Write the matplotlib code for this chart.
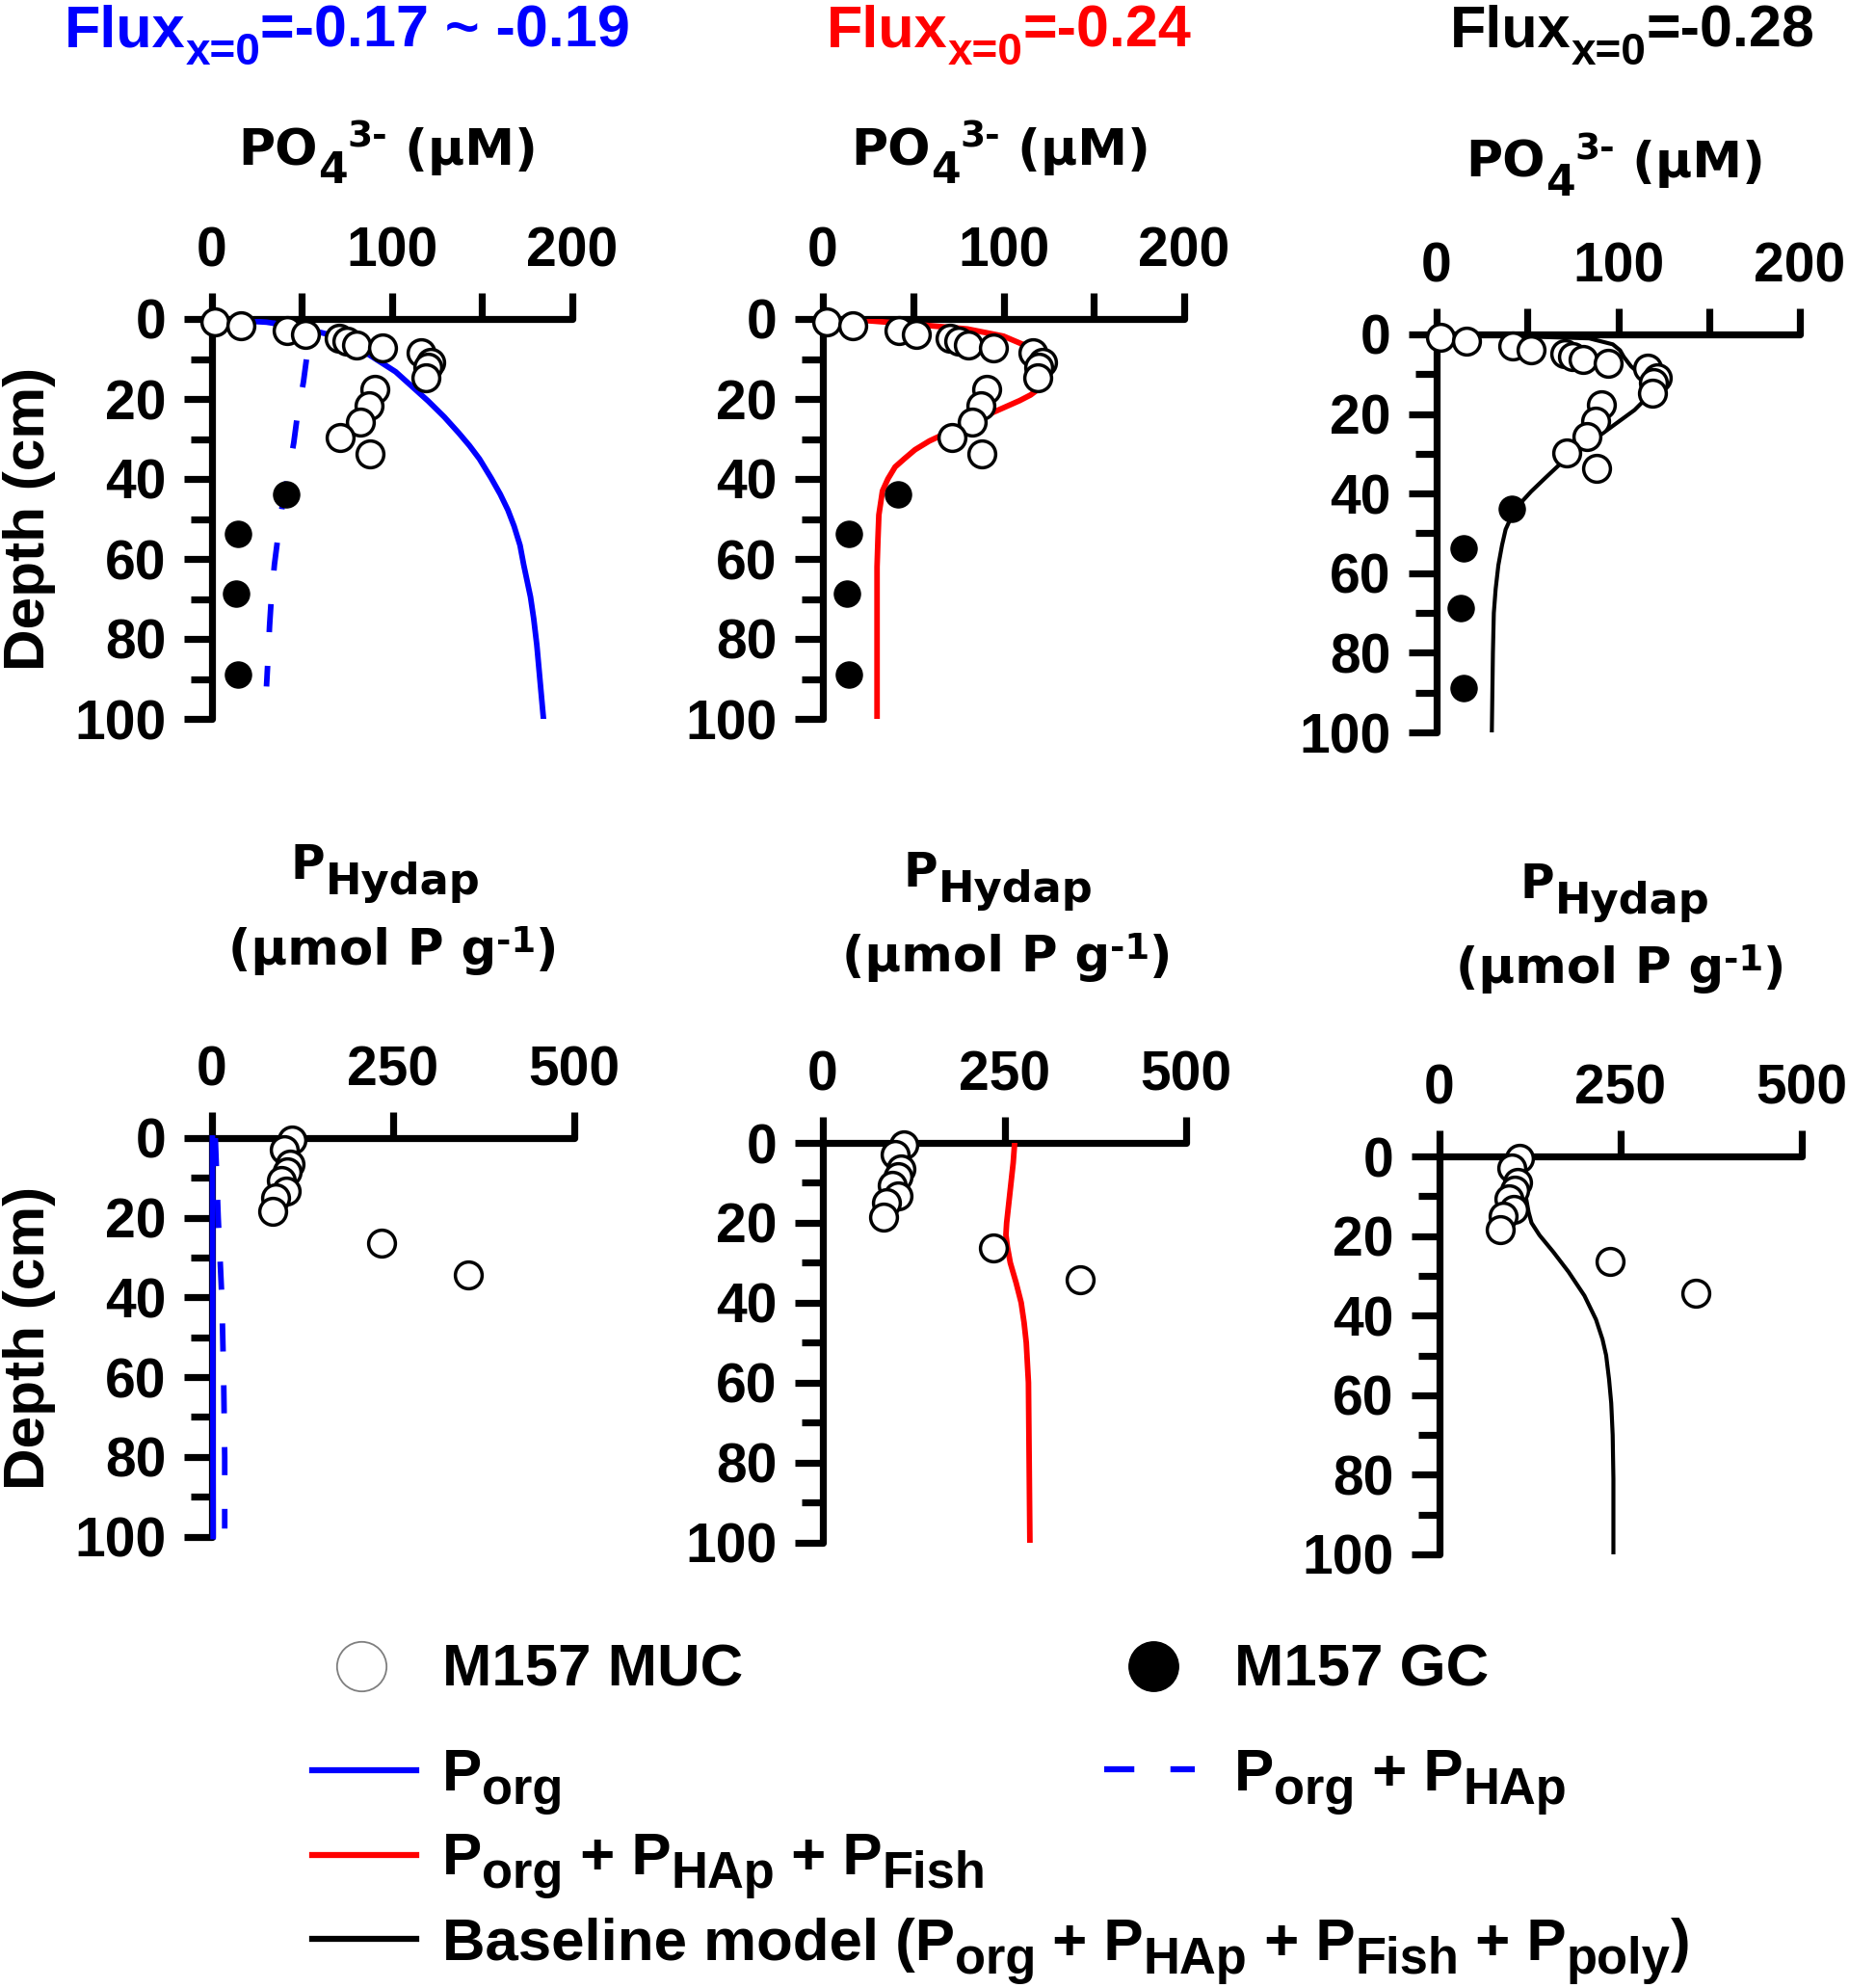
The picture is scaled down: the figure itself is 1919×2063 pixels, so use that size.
import matplotlib
matplotlib.use('Agg')
import matplotlib.pyplot as plt
from matplotlib.lines import Line2D
from matplotlib.ticker import FixedLocator, MultipleLocator
from matplotlib.transforms import IdentityTransform

plt.rcParams['font.family'] = ['Liberation Sans', 'DejaVu Sans']
plt.rcParams['font.weight'] = 'bold'

# ---------------- data ----------------
# PO4 (uM) measured, M157 MUC (open) and M157 GC (filled)
muc_po4 = [2, 16.4, 42, 51.8, 70.5, 75, 80.4, 94.6, 116, 121.7, 119.6, 119, 90.5, 87.5, 82.5, 71.4, 87.8]
muc_po4_depth = [0.8, 1.6, 2.8, 3.8, 4.8, 5.6, 6.4, 7.2, 8.4, 10.8, 12, 14.8, 17.7, 21.7, 25.7, 29.7, 33.7]
gc_po4 = [41.4, 14.6, 13.4, 14.6]
gc_po4_depth = [43.8, 53.8, 68.7, 88.8]

# P_Hydap (umol P g-1) measured, M157 MUC
muc_hyd = [111, 100, 108, 104, 96, 103, 88, 84, 235, 354]
muc_hyd_depth = [0.6, 3.0, 6.5, 8.5, 10.7, 13.3, 15.0, 18.5, 26.3, 34.3]

# model: P_org (PO4)
porg_po4_depth = [0, 0.8, 2.0, 4.0, 8.0, 13.2, 20.5, 24.5, 28.5, 31.7, 35, 39.8, 43.8, 47.8, 51.8, 56.6,
                  61.4, 69.5, 75, 81.5, 90, 100]
porg_po4 = [0, 30.4, 48, 66, 84, 102, 120, 129, 137, 143, 148.5, 155, 160, 164.3, 167.7, 171, 173,
            176.8, 178.6, 180.3, 182, 184]
# model: P_org + P_HAp (PO4)
porg_hap_po4_depth = [0, 0.8, 2.2, 5, 9.6, 15.7, 24.9, 31, 39.8, 46.2, 55, 61.4, 70.3, 76.7, 85.1, 91.9]
porg_hap_po4 = [0, 30, 50, 53, 52.7, 50.9, 47.3, 45.5, 42, 39.3, 36.6, 34.8, 33, 32.1, 31.2, 30.4]
# model: P_org + P_HAp + P_Fish (PO4)
fish_po4_depth = [0, 0.4, 1.2, 2.5, 4.3, 6.8, 8.7, 10.5, 12, 13.6, 15.5, 17.3, 19, 20.4, 22, 24, 26, 28.4,
                  30.5, 32.7, 35, 37, 40, 43, 46, 49, 55, 62, 75, 100]
fish_po4 = [0, 24, 47, 80, 100, 113, 118, 122, 123.5, 124, 123, 120, 115, 109, 101, 91, 80, 69,
            59, 51, 45, 40, 36, 33, 32, 31, 30.5, 30, 30, 30]
# model: baseline (PO4)
base_po4_depth = [0, 0.4, 1, 2.5, 4, 5.6, 8, 10, 12, 13.6, 15, 16.7, 19, 21, 23.5, 26, 30, 33, 36, 39.5, 43,
                  46, 49, 53, 58, 64, 70, 80, 100]
base_po4 = [0, 40, 84, 97, 101, 103, 107, 112, 115, 117, 116.5, 114, 109, 103, 95.5, 88, 75, 67, 60, 52, 45,
            41, 38, 36, 34, 32.5, 31.5, 31, 30.4]

# model: P_org (P_Hydap)
porg_hyd_depth = [0, 100]
porg_hyd = [1, 2]
# model: P_org + P_HAp (P_Hydap)
porg_hap_hyd_depth = [0, 20, 40, 60, 80, 98]
porg_hap_hyd = [5, 9, 14, 16.5, 18, 18]
# model: P_org + P_HAp + P_Fish (P_Hydap)
fish_hyd_depth = [0, 5, 10, 15, 20, 23, 26, 30, 35, 40, 45, 50, 60, 80, 100]
fish_hyd = [264, 262, 259, 256, 253, 252, 254, 258, 266, 273, 277, 280, 283, 284, 285]
# model: baseline (P_Hydap)
base_hyd_depth = [0, 5, 10, 12, 14, 16.7, 19.8, 24, 29, 35, 41, 46, 50, 56, 62, 70, 81, 100]
base_hyd = [118, 118, 119, 121, 123, 127, 138, 157, 178, 200, 216, 225, 230, 234, 237, 239, 240, 240]

flux_values = ['=-0.17 ~ -0.19', '=-0.24', '=-0.28']
flux_colors = ['blue', 'red', 'black']

# ---------------- figure ----------------
W, H = 1919, 2063
fig = plt.figure(figsize=(W / 100, H / 100), dpi=100)
REN = fig.canvas.get_renderer()
FS = 41
LW_SP = 5.2
LIB = ['Liberation Sans', 'DejaVu Sans']
DJV = ['DejaVu Sans']


def add_ax(left, top, right, bottom):
    return fig.add_axes([left / W, 1 - bottom / H, (right - left) / W, (bottom - top) / H])


def ftext(x, y, s, **kw):
    kw.setdefault('fontsize', FS)
    kw.setdefault('fontweight', 'bold')
    return fig.text(x / W, 1 - y / H, s, **kw)


def advance(s, fs, family):
    t1 = fig.text(0, 0, '|' + s + '|', fontsize=fs, fontweight='bold', family=family)
    t2 = fig.text(0, 0, '||', fontsize=fs, fontweight='bold', family=family)
    w = t1.get_window_extent(REN).width - t2.get_window_extent(REN).width
    t1.remove()
    t2.remove()
    return w


def rich(x, y, pieces, size, family=LIB, color='black', ha='left'):
    """pieces: (text, scale, baseline offset in em of main size)."""
    em = size * 100 / 72
    widths = [advance(s, size * sc, family) for s, sc, dy in pieces]
    total = sum(widths)
    x0 = x - total / 2 if ha == 'center' else x
    cx = x0
    for (s, sc, dy), w in zip(pieces, widths):
        fig.text(cx, (H - y) + dy * em, s, fontsize=size * sc, fontweight='bold', family=family,
                 color=color, ha='left', va='baseline', transform=IdentityTransform())
        cx += w


def style(ax, xmax, xmajor, xminor):
    ax.set_xlim(0, xmax)
    ax.set_ylim(100, 0)
    for s in ['right', 'bottom']:
        ax.spines[s].set_visible(False)
    for s in ['left', 'top']:
        ax.spines[s].set_linewidth(LW_SP)
        ax.spines[s].set_capstyle('round')
    ax.xaxis.set_ticks_position('top')
    ax.xaxis.set_major_locator(FixedLocator(xmajor))
    ax.xaxis.set_minor_locator(FixedLocator(xminor if xminor else []))
    ax.yaxis.set_major_locator(MultipleLocator(20))
    ax.yaxis.set_minor_locator(MultipleLocator(10))
    ax.tick_params(axis='x', which='both', direction='out', length=19.5, width=LW_SP,
                   pad=11, labelsize=FS)
    ax.tick_params(axis='y', which='major', direction='out', length=21, width=LW_SP,
                   pad=13, labelsize=FS)
    ax.tick_params(axis='y', which='minor', direction='out', length=16, width=LW_SP)
    for lab in ax.get_xticklabels() + ax.get_yticklabels():
        lab.set_fontweight('bold')
    ax.patch.set_alpha(0)


open_kw = dict(marker='o', linestyle='none', markersize=20, markerfacecolor='white',
               markeredgecolor='black', markeredgewidth=2.5, clip_on=False, zorder=5)
fill_kw = dict(marker='o', linestyle='none', markersize=19.5, markerfacecolor='black',
               markeredgecolor='black', markeredgewidth=1, clip_on=False, zorder=5)

top_boxes = [(219.7, 331, 594, 746), (854, 331, 1229, 746), (1491, 347, 1868, 760)]
bot_boxes = [(219.7, 1181, 595.5, 1594.5), (854, 1186, 1231, 1600.6), (1494, 1200, 1870, 1613)]

top_axes = [add_ax(*b) for b in top_boxes]
bot_axes = [add_ax(*b) for b in bot_boxes]

for ax in top_axes:
    style(ax, 200, [0, 100, 200], [50, 150])
for ax in bot_axes:
    style(ax, 500, [0, 250, 500], None)

LW_C = 4.2
# top row curves
a1, a2, a3 = top_axes
a1.plot(porg_po4, porg_po4_depth, color='blue', lw=LW_C, solid_capstyle='round',
        solid_joinstyle='round', zorder=3)
a1.plot(porg_hap_po4, porg_hap_po4_depth, color='blue', lw=LW_C, dashes=(5, 6), zorder=3)
a2.plot(fish_po4, fish_po4_depth, color='red', lw=LW_C, solid_capstyle='round',
        solid_joinstyle='round', zorder=3)
a3.plot(base_po4, base_po4_depth, color='black', lw=3.0, solid_capstyle='round',
        solid_joinstyle='round', zorder=3)
for ax in top_axes:
    ax.plot(muc_po4, muc_po4_depth, **open_kw)
    ax.plot(gc_po4, gc_po4_depth, **fill_kw)

# bottom row curves
b1, b2, b3 = bot_axes
b1.plot(porg_hyd, porg_hyd_depth, color='blue', lw=LW_C, zorder=3, clip_on=False)
b1.plot(porg_hap_hyd, porg_hap_hyd_depth, color='blue', lw=LW_C, dashes=(5, 6), zorder=3)
b2.plot(fish_hyd, fish_hyd_depth, color='red', lw=LW_C, solid_capstyle='round',
        solid_joinstyle='round', zorder=3)
b3.plot(base_hyd, base_hyd_depth, color='black', lw=3.0, solid_capstyle='round',
        solid_joinstyle='round', zorder=3)
for ax in bot_axes:
    ax.plot(muc_hyd, muc_hyd_depth, **open_kw)

# titles
title_left = [67, 858, 1505]
for xl, val, col in zip(title_left, flux_values, flux_colors):
    rich(xl, 48.5, [('Flux', 1, 0), ('x=0', 0.75, -0.3), (val, 1, 0)], 44, color=col)

# top x labels
for cx, by in [(403, 171), (1039, 171), (1677, 184)]:
    rich(cx, by, [('PO', 1, 0), ('4', 0.85, -0.36), ('3-', 0.72, 0.36), (' (μM)', 1, 0)],
         37.5, family=DJV, ha='center')

# bottom x labels
for (c1, b1y), (c2, b2y) in [((400, 912), (408, 1001)), ((1036, 919.5), (1045, 1008)),
                             ((1676, 932), (1682, 1020))]:
    rich(c1, b1y, [('P', 1, 0), ('Hydap', 0.92, -0.33)], 35, family=DJV, ha='center')
    rich(c2, b2y, [('(μmol P g', 1, 0), ('-1', 0.72, 0.25), (')', 1, 0)], 37, family=DJV, ha='center')

# y labels
ftext(30, 538, 'Depth (cm)', rotation=90, ha='center', va='center', fontsize=43.5)
ftext(30, 1388, 'Depth (cm)', rotation=90, ha='center', va='center', fontsize=43.5)

# ---------------- legend ----------------
def fig_line(x1, x2, y, **kw):
    fig.add_artist(Line2D([x1 / W, x2 / W], [1 - y / H, 1 - y / H], transform=fig.transFigure, **kw))


def fig_marker(x, y, **kw):
    fig.add_artist(Line2D([x / W], [1 - y / H], transform=fig.transFigure, linestyle='none', **kw))


LFS = 44.5
SUB = 0.85
SDY = -0.22
fig_marker(375, 1729, marker='o', markersize=37, markerfacecolor='white',
           markeredgecolor='#7f7f7f', markeredgewidth=1.3)
rich(459, 1749, [('M157 MUC', 1, 0)], LFS)
fig_marker(1197, 1729, marker='o', markersize=37, markerfacecolor='black', markeredgecolor='black')
rich(1281, 1749, [('M157 GC', 1, 0)], LFS)

fig_line(324, 432, 1837, color='blue', lw=4.5)
rich(459, 1858, [('P', 1, 0), ('org', SUB, SDY)], LFS)
fig_line(1146, 1240, 1836, color='blue', lw=4.5, dashes=(5, 6))
rich(1281, 1858, [('P', 1, 0), ('org', SUB, SDY), (' + P', 1, 0), ('HAp', SUB, SDY)], LFS)

fig_line(324, 432, 1925, color='red', lw=4.5)
rich(459, 1945, [('P', 1, 0), ('org', SUB, SDY), (' + P', 1, 0), ('HAp', SUB, SDY),
                 (' + P', 1, 0), ('Fish', SUB, SDY)], LFS)

fig_line(324, 432, 2012, color='black', lw=4.5)
rich(459, 2034, [('Baseline model (P', 1, 0), ('org', SUB, SDY), (' + P', 1, 0), ('HAp', SUB, SDY),
                 (' + P', 1, 0), ('Fish', SUB, SDY), (' + P', 1, 0), ('poly', SUB, SDY), (')', 1, 0)], LFS)

fig.savefig('out.png', dpi=100, facecolor='white')
